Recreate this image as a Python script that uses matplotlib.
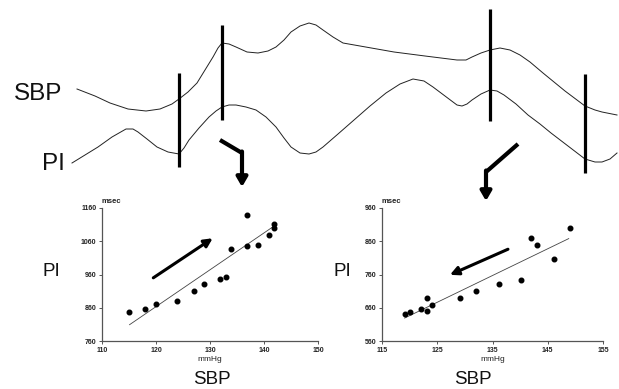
import matplotlib
matplotlib.use("Agg")
import matplotlib.pyplot as plt

plt.rcParams['font.family'] = ['Liberation Sans', 'DejaVu Sans']

# ---- schematic traces (pixel coordinates of the sketch) ----
sbp_trace_x = [77, 95, 110, 128, 146, 160, 172, 179, 188, 197, 205, 213, 218, 222, 229, 236, 247, 258,
               268, 276, 284, 291, 300, 309, 316, 323, 333, 343, 360, 394, 425, 457, 466, 472, 481,
               490, 500, 510, 520, 530, 543, 565, 585, 595, 602, 617]
sbp_trace_y = [89, 96, 103, 109, 111, 109, 104, 99, 92, 83, 70, 57, 48, 43, 44, 47, 52, 53,
               51, 47, 40, 32, 26, 23, 25, 30, 37, 43, 46, 52, 56, 60, 60, 57, 53,
               50, 48, 50, 55, 62, 73, 91, 106, 110, 112, 115]
pi_trace_x = [72, 85, 98, 112, 126, 133, 138, 147, 157, 168, 179, 184, 189, 199, 209, 216, 222, 229,
              236, 246, 256, 266, 276, 284, 291, 300, 309, 316, 323, 338, 354, 370, 386, 400, 413,
              424, 433, 445, 457, 462, 467, 472, 481, 490, 497, 504, 516, 528, 540, 551, 568, 585,
              595, 602, 610, 617]
pi_trace_y = [163, 155, 147, 137, 129, 129, 132, 139, 147, 152, 154, 148, 140, 128, 117, 111, 107, 105,
              105, 107, 110, 117, 127, 138, 147, 153, 154, 152, 147, 134, 120, 106, 93, 84, 79,
              81, 87, 96, 105, 106, 104, 100, 94, 90, 91, 95, 104, 115, 124, 133, 146, 159,
              162, 162, 159, 153]
bar_x = [179, 222, 490, 585]
bar_top = [73, 25, 9, 74]
bar_bottom = [167, 120, 121, 173]
bent_arrows = [
    [(220, 140), (242, 153), (242, 187)],
    [(518, 144), (486, 172), (486, 201)],
]

# ---- left scatter: PI (msec) vs SBP (mmHg) ----
left_sbp = [115.0, 118.0, 120.0, 123.9, 127.0, 128.9, 131.9, 132.9, 133.9, 136.9, 136.9, 138.9, 140.9, 141.8, 141.8]
left_pi = [847, 857, 870, 881, 911, 930, 945, 951, 1038, 1139, 1047, 1050, 1080, 1100, 1112]
left_fit_x = [115.1, 141.8]
left_fit_y = [809, 1105]
left_arrow = [(119.5, 950), (130.5, 1069)]
left_xticks = [110, 120, 130, 140, 150]
left_yticks = [760, 860, 960, 1060, 1160]

# ---- right scatter ----
right_sbp = [119.1, 120.1, 122.0, 123.1, 123.1, 124.1, 129.1, 132.1, 136.1, 140.1, 142.0, 143.1, 146.1, 149.1]
right_pi = [641, 647, 655, 690, 649, 667, 690, 710, 731, 744, 869, 849, 808, 899]
right_fit_x = [119.1, 148.8]
right_fit_y = [629, 868]
right_arrow = [(137.8, 836), (127.3, 759)]
right_xticks = [115, 125, 135, 145, 155]
right_yticks = [560, 660, 760, 860, 960]

W, H = 619, 389
fig = plt.figure(figsize=(W / 100, H / 100), dpi=100)
fig.patch.set_facecolor('white')

bg = fig.add_axes([0, 0, 1, 1])
bg.set_xlim(0, W)
bg.set_ylim(H, 0)
bg.axis('off')

bg.plot(sbp_trace_x, sbp_trace_y, color='#222222', lw=0.7)
bg.plot(pi_trace_x, pi_trace_y, color='#222222', lw=0.7)
for x, t, b in zip(bar_x, bar_top, bar_bottom):
    bg.plot([x, x], [t, b], color='black', lw=2.3, solid_capstyle='butt')
for pts in bent_arrows:
    (x0, y0), (x1, y1), (x2, y2) = pts
    bg.plot([x0, x1], [y0, y1], color='black', lw=3.0, solid_capstyle='butt')
    bg.annotate('', xy=(x2, y2), xytext=(x1, y1 - 1.5),
                arrowprops=dict(arrowstyle='-|>,head_length=0.55,head_width=0.32',
                                color='black', lw=3.0, shrinkA=0, shrinkB=0))

bg.text(38, 94, 'SBP', fontsize=17.5, ha='center', va='center', color='#111111')
bg.text(53, 164, 'PI', fontsize=17.5, ha='center', va='center', color='#111111')

bg.text(51, 271, 'PI', fontsize=13.5, ha='center', va='center', color='#111111')
bg.text(342, 271, 'PI', fontsize=13.5, ha='center', va='center', color='#111111')
bg.text(212, 379, 'SBP', fontsize=13.5, ha='center', va='center', color='#111111')
bg.text(473, 379, 'SBP', fontsize=13.5, ha='center', va='center', color='#111111')


def scatter_panel(px0, px1, xlim, ylim, xs, ys, fx, fy, arrow, xt, yt):
    top, bottom = 208, 341
    ax = fig.add_axes([px0 / W, 1 - bottom / H, (px1 - px0) / W, (bottom - top) / H])
    ax.set_facecolor('none')
    ax.set_xlim(*xlim)
    ax.set_ylim(*ylim)
    for s in ['top', 'right']:
        ax.spines[s].set_visible(False)
    for s in ['left', 'bottom']:
        ax.spines[s].set_color('#555555')
        ax.spines[s].set_linewidth(0.9)
    ax.set_xticks(xt)
    ax.set_yticks(yt)
    ax.set_xticklabels([str(v) for v in xt], fontsize=5, fontweight='bold', color='#222222')
    ax.set_yticklabels([str(v) for v in yt], fontsize=5, fontweight='bold', color='#222222')
    ax.tick_params(length=2, width=0.7, color='#555555', pad=2)
    ax.plot(fx, fy, color='#444444', lw=0.6)
    ax.plot(xs, ys, 'o', color='black', ms=3.3, mec='black')
    ax.annotate('', xy=arrow[1], xytext=arrow[0],
                arrowprops=dict(arrowstyle='-|>,head_length=0.5,head_width=0.25',
                                color='black', lw=2.2, shrinkA=0, shrinkB=0))
    ax.text(0.0, 1.02, 'msec', transform=ax.transAxes, fontsize=5.5, fontweight='bold',
            ha='left', va='bottom', color='#222222')
    ax.text(0.5, -0.115, 'mmHg', transform=ax.transAxes, fontsize=6, ha='center', va='top',
            color='#222222')
    return ax


scatter_panel(102, 318, (110, 150), (760, 1160), left_sbp, left_pi, left_fit_x, left_fit_y,
              left_arrow, left_xticks, left_yticks)
scatter_panel(382, 603, (115, 155), (560, 960), right_sbp, right_pi, right_fit_x, right_fit_y,
              right_arrow, right_xticks, right_yticks)

fig.savefig('out.png', dpi=100, facecolor='white')
